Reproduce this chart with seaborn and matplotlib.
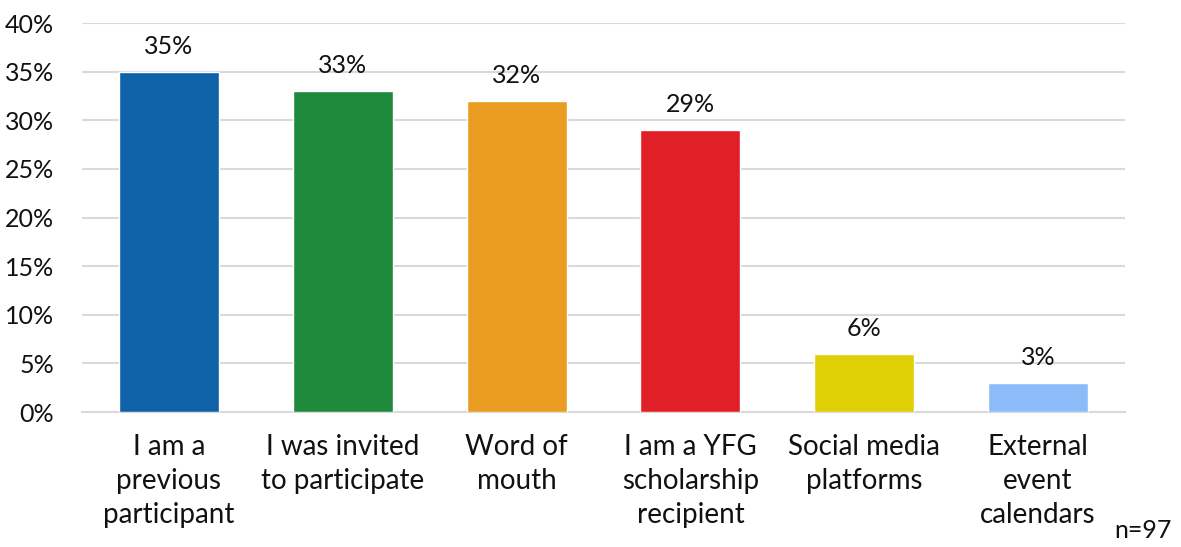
import matplotlib
matplotlib.use("Agg")
import matplotlib.pyplot as plt
import seaborn as sns
import pandas as pd
from matplotlib.ticker import FuncFormatter

# Data
categories = [
    "I am a\nprevious\nparticipant",
    "I was invited\nto participate",
    "Word of\nmouth",
    "I am a YFG\nscholarship\nrecipient",
    "Social media\nplatforms",
    "External\nevent\ncalendars",
]
percentages = [35, 33, 32, 29, 6, 3]
bar_colors = ["#0F62A8", "#1F8A3C", "#EA9C22", "#E01F26", "#E0CF05", "#8DBBFA"]
sample_note = "n=97"

sns.set_theme(style="white")
plt.rcParams["font.family"] = ["Lato", "DejaVu Sans"]

df = pd.DataFrame({"Category": categories, "Percent": percentages})

fig = plt.figure(figsize=(11.81, 5.47), dpi=100)
ax = fig.add_axes([0.0694, 0.2468, 0.8832, 0.711])

sns.barplot(data=df, x="Category", y="Percent", hue="Category",
            palette=bar_colors, legend=False, width=0.575, ax=ax,
            saturation=1, zorder=3)

ax.set_ylim(0, 40)
ax.set_yticks(range(0, 41, 5))
ax.yaxis.set_major_formatter(FuncFormatter(lambda v, _: f"{v:.0f}%"))
ax.grid(axis="y", color="#D9D9D9", linewidth=1.5, zorder=0)
ax.set_axisbelow(True)

for spine in ["top", "right", "left"]:
    ax.spines[spine].set_visible(False)
ax.spines["bottom"].set_color("#D9D9D9")
ax.spines["bottom"].set_linewidth(1.5)

ax.set_xlabel("")
ax.set_ylabel("")
ax.tick_params(axis="y", labelsize=18, colors="#111111", length=0, pad=20)
ax.tick_params(axis="x", labelsize=20, colors="#111111", length=0, pad=16)
for lbl in ax.get_xticklabels():
    lbl.set_linespacing(1.38)

for container in ax.containers:
    ax.bar_label(container, labels=[f"{v:.0f}%" for v in container.datavalues],
                 fontsize=18, color="#111111", padding=10)

fig.text(0.992, 0.01, sample_note, ha="right", va="bottom", fontsize=18, color="#111111")

fig.savefig("out.png", dpi=100)
